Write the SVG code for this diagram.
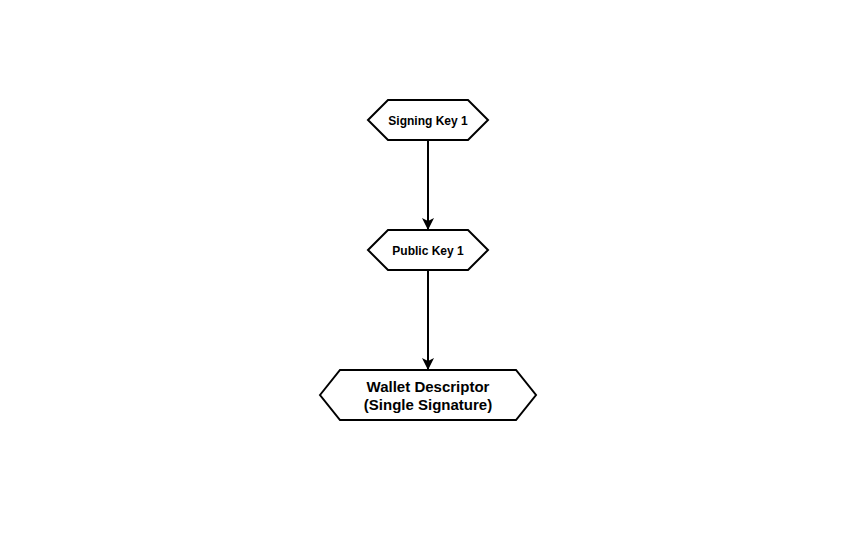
<svg xmlns="http://www.w3.org/2000/svg" width="850" height="550" viewBox="0 0 850 550">
<defs>
<style>
.hex{fill:#fff;stroke:#000;stroke-width:2}
.t{font-family:"Liberation Sans",Arial,sans-serif;font-weight:bold;fill:#000;text-anchor:middle}
.s{font-size:12px}
.l{font-size:15px}
.e{stroke:#000;stroke-width:2;fill:none}
</style>
<marker id="arr" markerWidth="12" markerHeight="12" viewBox="0 0 12 12" refX="11" refY="6" orient="auto" markerUnits="userSpaceOnUse">
<path d="M0,0 L12,6 L0,12 L3,6 Z" fill="#000"/>
</marker>
</defs>
<rect width="850" height="550" fill="#fff"/>
<g id="connectors">
<line class="e" x1="428" y1="140" x2="428" y2="229" marker-end="url(#arr)"/>
<line class="e" x1="428" y1="270" x2="428" y2="369" marker-end="url(#arr)"/>
</g>
<g id="signing-key-1">
<polygon class="hex" points="368,120 388,100 468,100 488,120 468,140 388,140"/>
<text class="t s" x="428" y="124.5">Signing Key 1</text>
</g>
<g id="public-key-1">
<polygon class="hex" points="368,250 388,230 468,230 488,250 468,270 388,270"/>
<text class="t s" x="428" y="254.5">Public Key 1</text>
</g>
<g id="wallet-descriptor">
<polygon class="hex" points="320,395 340,370 516,370 536,395 516,420 340,420"/>
<text class="t l" x="428" y="392">Wallet Descriptor</text>
<text class="t l" x="428" y="410">(Single Signature)</text>
</g>
</svg>
